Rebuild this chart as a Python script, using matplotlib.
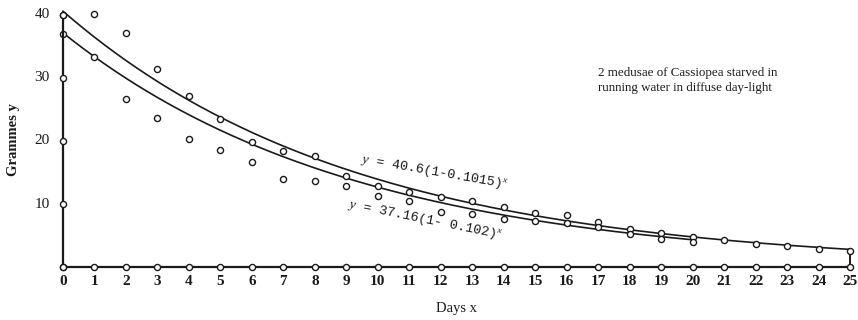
import numpy as np
import matplotlib
matplotlib.use("Agg")
import matplotlib.pyplot as plt

# observed weights (grammes) of the two medusae, read from the plate
days_a = list(range(0, 26))
grams_a = [40.0, 40.2, 37.1, 31.5, 27.1, 23.5, 19.8, 18.4, 17.6, 14.5, 12.9,
           11.9, 11.1, 10.4, 9.5, 8.5, 8.2, 7.2, 6.1, 5.4, 4.7, 4.35, 3.7,
           3.3, 2.9, 2.5]
days_b = list(range(0, 21))
grams_b = [37.0, 33.3, 26.7, 23.6, 20.3, 18.5, 16.7, 13.9, 13.6, 12.8, 11.3,
           10.5, 8.8, 8.4, 7.6, 7.3, 7.0, 6.4, 5.2, 4.5, 3.9]

# fitted curves y = a(1-k)^x as printed on the chart
fit_a = (40.6, 0.1015, 25)
fit_b = (37.16, 0.102, 20)

x_ticks = list(range(0, 26))
y_ticks = [10, 20, 30, 40]

plt.rcParams["font.family"] = ["Liberation Serif", "DejaVu Serif"]
plt.rcParams["mathtext.fontset"] = "custom"
plt.rcParams["mathtext.it"] = "Liberation Serif:italic"
plt.rcParams["mathtext.rm"] = "Liberation Mono"

fig = plt.figure(figsize=(8.58, 3.2), dpi=100)
ax = fig.add_axes([63 / 858, 53 / 320, 787 / 858, 252 / 320])
ax.set_xlim(0, 25)
ax.set_ylim(0, 40)
ax.axis("off")

ink = "#1a1a1a"
mk = dict(marker="o", markersize=4.4, markerfacecolor="white",
          markeredgecolor=ink, markeredgewidth=1.0, clip_on=False)

# fitted curves
for a, k, xmax in (fit_a, fit_b):
    xs = np.linspace(0, xmax, 300)
    ax.plot(xs, a * (1 - k) ** xs, color=ink, lw=1.2, clip_on=False)

# end line at day 25
ax.plot([25, 25], [0, grams_a[-1]], color=ink, lw=1.4, clip_on=False)

# observations
ax.plot(days_a, grams_a, linestyle="none", **mk, zorder=4)
ax.plot(days_b, grams_b, linestyle="none", **mk, zorder=4)

# axes drawn as lines with circle ticks
ax.plot(x_ticks, [0] * len(x_ticks), color=ink, lw=1.6, **mk, zorder=5)
ax.plot([0] * (len(y_ticks) + 1), [0] + y_ticks, color=ink, lw=1.6, **mk, zorder=5)

for xt in x_ticks:
    ax.text(xt, -1.3, str(xt), ha="center", va="top", fontsize=11,
            fontweight="bold", color=ink)
for yt in y_ticks:
    ax.text(-0.42, yt, str(yt), ha="right", va="center", fontsize=11,
            color=ink)

ax.text(12.5, -5.5, "Days x", ha="center", va="top", fontsize=10.5, color=ink)
fig.text(14 / 858, 1 - 140 / 320, "Grammes y", rotation=90, ha="center",
         va="center", fontsize=10.5, fontweight="bold", color=ink)

ax.text(17.0, 29.6, "2 medusae of Cassiopea starved in\nrunning water in diffuse day-light",
        ha="left", va="center", fontsize=9.4, color=ink, linespacing=1.25)

mono = ["Liberation Mono", "DejaVu Sans Mono"]
ax.text(11.8, 15.0, r"$y$ = 40.6(1-0.1015)$^{\mathit{x}}$", rotation=-10,
        ha="center", va="center", fontsize=9.6, color=ink, family=mono,
        rotation_mode="anchor")
ax.text(11.5, 7.5, r"$y$ = 37.16(1- 0.102)$^{\mathit{x}}$", rotation=-11.5,
        ha="center", va="center", fontsize=9.6, color=ink, family=mono,
        rotation_mode="anchor")

fig.savefig("out.png", dpi=100, facecolor="white")
